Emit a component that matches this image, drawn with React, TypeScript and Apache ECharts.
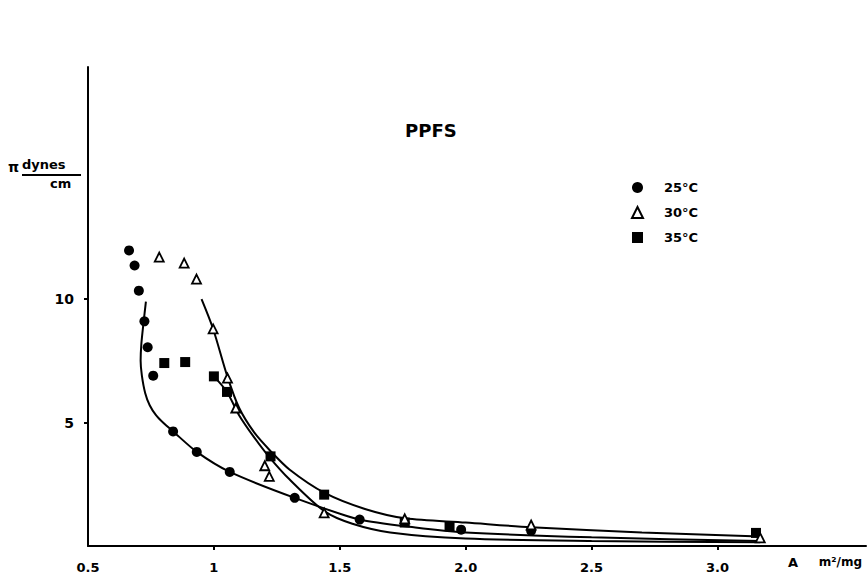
import React, { useEffect, useRef } from "react";
import * as echarts from "echarts";

const xTicks = [0.5, 1, 1.5, 2, 2.5, 3];
const xTickLabels = ["0.5", "1", "1.5", "2.0", "2.5", "3.0"];
const yTicks = [5, 10];
const yTickLabels = ["5", "10"];

const seriesNames = ["25°C", "30°C", "35°C"];

const t25x = [0.663, 0.685, 0.702, 0.724, 0.737, 0.759, 0.838, 0.932, 1.063, 1.321, 1.579, 1.982, 2.26];
const t25y = [11.97, 11.36, 10.34, 9.1, 8.05, 6.9, 4.64, 3.81, 3.0, 1.95, 1.07, 0.66, 0.62];

const t30x = [0.783, 0.882, 0.931, 0.997, 1.054, 1.087, 1.202, 1.22, 1.438, 1.758, 2.26, 3.17];
const t30y = [11.7, 11.46, 10.81, 8.79, 6.8, 5.59, 3.25, 2.82, 1.34, 1.1, 0.85, 0.33];

const t35x = [0.803, 0.886, 1.0, 1.052, 1.225, 1.438, 1.758, 1.936, 3.153];
const t35y = [7.41, 7.45, 6.87, 6.24, 3.63, 2.08, 0.95, 0.8, 0.53];

const curveAx = [0.73, 0.72, 0.712, 0.709, 0.714, 0.727, 0.745, 0.77, 0.8, 0.838, 0.932, 1.063, 1.321, 1.579, 1.8, 2.0, 2.5, 3.17];
const curveAy = [9.9, 9.0, 8.2, 7.5, 6.9, 6.2, 5.7, 5.3, 4.98, 4.64, 3.81, 3.0, 1.95, 1.07, 0.75, 0.55, 0.35, 0.2];

const curveBx = [0.951, 0.997, 1.054, 1.1, 1.16, 1.22, 1.3, 1.44, 1.6, 1.76, 2.0, 2.26, 2.7, 3.17];
const curveBy = [10.0, 8.79, 6.85, 5.6, 4.6, 3.9, 3.1, 2.15, 1.5, 1.12, 0.95, 0.76, 0.55, 0.38];

const curveCx = [1.0, 1.052, 1.1, 1.16, 1.22, 1.3, 1.44, 1.55, 1.7, 2.0, 2.5, 3.17];
const curveCy = [6.87, 6.24, 5.3, 4.4, 3.6, 2.7, 1.4, 0.9, 0.55, 0.3, 0.2, 0.15];

const zip = (xs: number[], ys: number[]) => xs.map((x, i) => [x, ys[i]]);

const FONT = "'DejaVu Sans', 'Liberation Sans', sans-serif";

export default function App() {
  const ref = useRef<HTMLDivElement>(null);
  useEffect(() => {
    if (!ref.current) return;
    const chart = echarts.init(ref.current, undefined, { renderer: "svg" });
    const curve = (name: string, xs: number[], ys: number[], smooth: number) => ({
      name,
      type: "line",
      data: zip(xs, ys),
      smooth,
      showSymbol: false,
      symbol: "none",
      lineStyle: { color: "#000", width: 2 },
      z: 2,
    });
    chart.setOption({
      animation: false,
      backgroundColor: "#fff",
      title: {
        text: "PPFS",
        left: 400,
        top: 116,
        textStyle: { fontFamily: FONT, fontWeight: "bold", fontSize: 18, color: "#000" },
      },
      legend: {
        data: seriesNames,
        orient: "vertical",
        left: 626,
        top: 176,
        itemWidth: 11,
        itemHeight: 11,
        itemGap: 12,
        textStyle: { fontFamily: FONT, fontWeight: "bold", fontSize: 13, color: "#000", padding: [0, 0, 0, 16] },
      },
      grid: { left: 88, right: 2, top: 67, bottom: 33 },
      xAxis: {
        type: "value",
        min: 0.5,
        max: 3.59,
        interval: 0.5,
        splitLine: { show: false },
        axisLine: { show: true, lineStyle: { color: "#000", width: 2 } },
        axisTick: { show: true, customValues: xTicks.slice(1), length: 4, lineStyle: { color: "#000", width: 2 } },
        axisLabel: {
          customValues: xTicks,
          formatter: (v: number) => {
            const i = xTicks.findIndex((t) => Math.abs(t - v) < 1e-6);
            return i >= 0 ? xTickLabels[i] : "";
          },
          margin: 15,
          fontFamily: FONT,
          fontWeight: "bold",
          fontSize: 13,
          color: "#000",
        },
      },
      yAxis: {
        type: "value",
        min: 0,
        max: 19.4,
        interval: 5,
        splitLine: { show: false },
        axisLine: { show: true, lineStyle: { color: "#000", width: 2 } },
        axisTick: { show: true, customValues: yTicks, length: 4, lineStyle: { color: "#000", width: 2 } },
        axisLabel: {
          customValues: yTicks,
          formatter: (v: number) => {
            const i = yTicks.findIndex((t) => Math.abs(t - v) < 1e-6);
            return i >= 0 ? yTickLabels[i] : "";
          },
          margin: 14,
          fontFamily: FONT,
          fontWeight: "bold",
          fontSize: 14,
          color: "#000",
        },
      },
      graphic: [
        { type: "text", left: 8, top: 160, style: { text: "π", fontFamily: FONT, fontWeight: "bold", fontSize: 14, fill: "#000" } },
        { type: "text", left: 22, top: 158, style: { text: "dynes", fontFamily: FONT, fontWeight: "bold", fontSize: 13, fill: "#000" } },
        { type: "line", shape: { x1: 22, y1: 175, x2: 81, y2: 175 }, style: { stroke: "#000", lineWidth: 2 } },
        { type: "text", left: 50, top: 177, style: { text: "cm", fontFamily: FONT, fontWeight: "bold", fontSize: 13, fill: "#000" } },
        { type: "text", left: 788, top: 556, style: { text: "A", fontFamily: FONT, fontWeight: "bold", fontSize: 13, fill: "#000" } },
        { type: "text", right: 6, top: 556, style: { text: "m²/mg", fontFamily: FONT, fontWeight: "bold", fontSize: 12, fill: "#000" } },
      ],
      series: [
        curve("curveA", curveAx, curveAy, 0.25),
        curve("curveB", curveBx, curveBy, 0.3),
        curve("curveC", curveCx, curveCy, 0.3),
        {
          name: seriesNames[0],
          type: "scatter",
          data: zip(t25x, t25y),
          symbol: "circle",
          symbolSize: 10,
          itemStyle: { color: "#000", opacity: 1 },
          z: 3,
        },
        {
          name: seriesNames[1],
          type: "scatter",
          data: zip(t30x, t30y),
          symbol: "triangle",
          symbolSize: 9,
          itemStyle: { color: "#fff", borderColor: "#000", borderWidth: 1.8, opacity: 1 },
          z: 4,
        },
        {
          name: seriesNames[2],
          type: "scatter",
          data: zip(t35x, t35y),
          symbol: "rect",
          symbolSize: 10,
          itemStyle: { color: "#000", opacity: 1 },
          z: 3,
        },
      ],
    });
    return () => chart.dispose();
  }, []);
  return <div ref={ref} style={{ width: 868, height: 579, position: "absolute", left: 0, top: 0 }} />;
}
